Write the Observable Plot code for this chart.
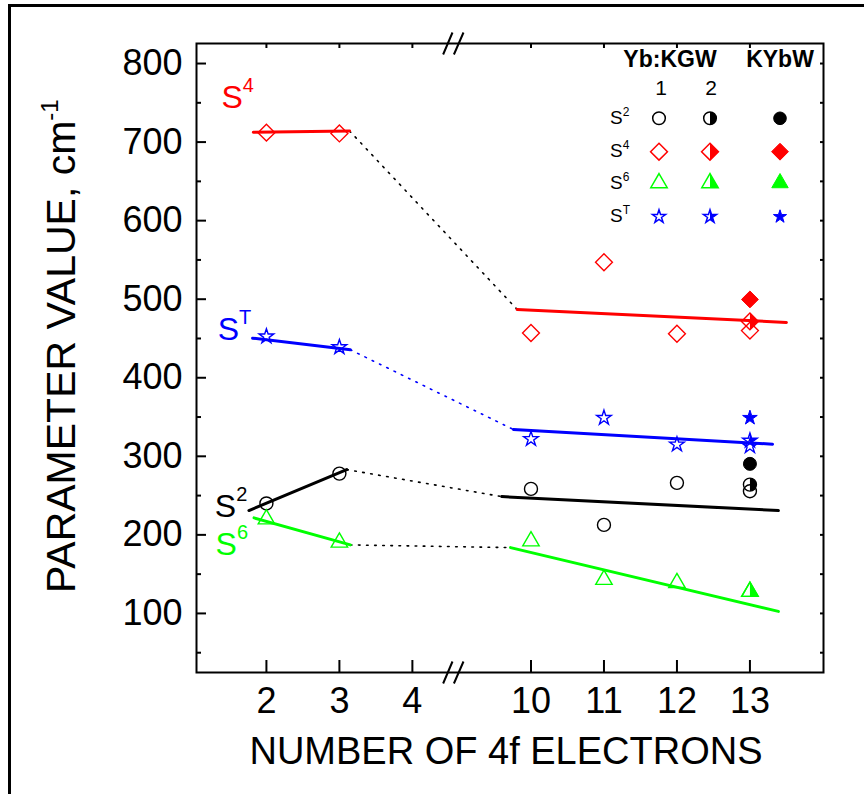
<!DOCTYPE html>
<html><head><meta charset="utf-8">
<script src="https://cdn.jsdelivr.net/npm/d3@7"></script>
<script src="https://cdn.jsdelivr.net/npm/@observablehq/plot@0.6"></script>
<style>
body{margin:0;background:#fff;}
#wrap{position:relative;width:864px;height:794px;overflow:hidden;font-family:"Liberation Sans",Arial,sans-serif;}
#outer{position:absolute;left:8px;top:4px;width:900px;height:900px;border-top:3px solid #000;border-left:3px solid #000;pointer-events:none;}
</style></head><body><div id="wrap"><div id="outer"></div></div>
<script>
// ---------------- data ----------------
const electrons = [2, 3, 10, 11, 12, 13];           // Yb:KGW sample 1 (open markers)
const s2KGW1 = [240, 278, 258.5, 212.7, 266.2, 255.5];
const s4KGW1 = [712, 711, 457, 547, 456, 460];
const s6KGW1 = [220, 190.5, 192, 143, 139, 127.7];
const sTKGW1 = [452.6, 439, 322, 349, 315, 313];

const kgw2Electrons = [13];                          // Yb:KGW sample 2 (half-filled)
const s2KGW2 = [264];
const s4KGW2 = [471.7];
const s6KGW2 = [127.7];
const sTKGW2 = [320];

const kybwElectrons = [13];                          // KYbW (filled)
const s2KYbW = [290.4];
const s4KYbW = [499.7];
const sTKYbW = [349];

// linear fits: [electrons, value] — left segment start/end, right segment start/end
const s2Fit = [[1.76, 231], [3.10, 283.1], [9.60, 248.7], [13.39, 230.9]];
const s4Fit = [[1.82, 712.5], [3.14, 714.1], [9.81, 487], [13.50, 470.4]];
const s6Fit = [[1.83, 221.6], [3.15, 187.2], [9.72, 183.8], [13.39, 102.6]];
const sTFit = [[1.81, 450.4], [3.15, 435.6], [9.76, 334.1], [13.31, 315.4]];

const xTicks = [2, 3, 4, 10, 11, 12, 13];
const yTicks = [100, 200, 300, 400, 500, 600, 700, 800];
const yMinor = [50, 150, 250, 350, 450, 550, 650, 750];
const seriesNames = ["2", "4", "6", "T"];
// series label anchors [electrons, value]
const labelAnchors = [[1.30, 222.5], [1.39, 742.4], [1.31, 173.7], [1.34, 447.4]];

// ---------------- broken axis ----------------
const BREAK_SHIFT = 4.375;                 // removes the 4.56 … 8.94 gap
const BREAK_AT = 4.557;
const bx = n => (n < 6 ? n : n - BREAK_SHIFT);
const unbx = u => (u < BREAK_AT ? u : u + BREAK_SHIFT);

// ---------------- symbols ----------------
const sqrt3 = Math.sqrt(3);
const halfCircle = {draw(c, size) {const R = Math.sqrt(size / Math.PI); c.moveTo(0, -R); c.arc(0, 0, R, -Math.PI / 2, Math.PI / 2); c.closePath();}};
const halfDiamond = {draw(c, size) {const h = Math.sqrt(size) * 0.62625; c.moveTo(0, -h); c.lineTo(h, 0); c.lineTo(0, h); c.closePath();}};
const halfTriangle = {draw(c, size) {const y = -Math.sqrt(size / (sqrt3 * 3)); c.moveTo(0, 2 * y); c.lineTo(-sqrt3 * y, -y); c.lineTo(0, -y); c.closePath();}};
const halfStar = {draw(c, size) {
  const ka = 0.89081309152928522810, kr = Math.sin(Math.PI / 10) / Math.sin(7 * Math.PI / 10);
  const R = Math.sqrt(size * ka), ri = kr * R;
  c.moveTo(0, -R);
  for (let k = 1; k <= 5; k++) {const t = k * Math.PI / 5, rr = k % 2 ? ri : R; c.lineTo(rr * Math.sin(t), -rr * Math.cos(t));}
  c.closePath();
}};
const slashes = {draw(c, size) {
  const r = Math.sqrt(size / Math.PI);
  c.moveTo(-0.9 * r, r); c.lineTo(-0.05 * r, -r);
  c.moveTo(0.08 * r, r); c.lineTo(0.95 * r, -r);
}};

const colors = {"2": "#000000", "4": "#ff0000", "6": "#00ff00", "T": "#0000ff"};
const symFull = {"2": "circle", "4": "diamond2", "6": "triangle", "T": "star"};
const symHalf = {"2": halfCircle, "4": halfDiamond, "6": halfTriangle, "T": halfStar};
const symR = {"2": 6.5, "4": 7.6, "6": 6.1, "T": 4.6};

const set1 = {"2": s2KGW1, "4": s4KGW1, "6": s6KGW1, "T": sTKGW1};
const set2 = {"2": s2KGW2, "4": s4KGW2, "6": s6KGW2, "T": sTKGW2};
const set3 = {"2": s2KYbW, "4": s4KYbW, "T": sTKYbW};
const fits = {"2": s2Fit, "4": s4Fit, "6": s6Fit, "T": sTFit};

const marks = [];
for (const s of seriesNames) {
  const fit = fits[s].map(([n, v], i) => ({n, v, seg: i < 2 ? "L" : "R"}));
  marks.push(Plot.link([fits[s]], {
    x1: d => bx(d[1][0]), y1: d => d[1][1], x2: d => bx(d[2][0]), y2: d => d[2][1],
    stroke: s === "T" ? "#0000ff" : "#000", strokeWidth: 1.6, strokeDasharray: "1.6,6.5", strokeLinecap: "round"
  }));
  marks.push(Plot.line(fit, {x: d => bx(d.n), y: "v", z: "seg", stroke: colors[s], strokeWidth: 3}));
}
for (const s of seriesNames) {
  const p1 = electrons.map((n, i) => ({n, v: set1[s][i]}));
  marks.push(Plot.dot(p1, {x: d => bx(d.n), y: "v", symbol: symFull[s], r: symR[s], stroke: colors[s], fill: "none", strokeWidth: 1.4}));
  const p2 = kgw2Electrons.map((n, i) => ({n, v: set2[s][i]}));
  marks.push(Plot.dot(p2, {x: d => bx(d.n), y: "v", symbol: symHalf[s], r: symR[s], fill: colors[s], stroke: "none"}));
  marks.push(Plot.dot(p2, {x: d => bx(d.n), y: "v", symbol: symFull[s], r: symR[s], stroke: colors[s], fill: "none", strokeWidth: 1.4}));
  if (set3[s]) {
    const p3 = kybwElectrons.map((n, i) => ({n, v: set3[s][i]}));
    marks.push(Plot.dot(p3, {x: d => bx(d.n), y: "v", symbol: symFull[s], r: symR[s], fill: colors[s], stroke: colors[s], strokeWidth: 1}));
  }
}

const uTicks = xTicks.map(bx);
const plot = Plot.plot({
  width: 864, height: 794,
  marginLeft: 196, marginRight: 41, marginTop: 43, marginBottom: 122,
  style: {fontFamily: '"Liberation Sans", Arial, sans-serif', background: "transparent", color: "#000"},
  x: {domain: [1.042, 9.633], label: null},
  y: {domain: [24.8, 825.5], label: null},
  marks: [
    Plot.axisY({ticks: yTicks, tickSize: 0, tickPadding: 14, fontSize: 36, label: null}),
    Plot.axisY({ticks: yTicks, tickSize: -10, tickFormat: () => "", strokeWidth: 2, label: null}),
    Plot.axisY({ticks: yMinor, tickSize: -5, tickFormat: () => "", strokeWidth: 2, label: null}),
    Plot.axisY({anchor: "right", ticks: yTicks.concat(yMinor), tickSize: -4, tickFormat: () => "", strokeWidth: 2, label: null}),
    Plot.axisX({ticks: uTicks, tickSize: 0, tickPadding: 15, fontSize: 36, tickFormat: u => String(Math.round(unbx(u))), label: null}),
    Plot.axisX({ticks: uTicks, tickSize: -12, tickFormat: () => "", strokeWidth: 2, label: null}),
    Plot.axisX({anchor: "top", ticks: uTicks, tickSize: -4, tickFormat: () => "", strokeWidth: 2, label: null}),
    ...marks,
    Plot.frame({stroke: "#000", strokeWidth: 2}),
    Plot.dot([BREAK_AT], {x: d => d, frameAnchor: "bottom", symbol: slashes, r: 11, stroke: "#000", strokeWidth: 2, fill: "none"}),
    Plot.dot([BREAK_AT], {x: d => d, frameAnchor: "top", symbol: slashes, r: 11, stroke: "#000", strokeWidth: 2, fill: "none"})
  ]
});
document.getElementById("wrap").prepend(plot);

// ---------------- annotations ----------------
const svg = d3.select(plot);
const xs = plot.scale("x"), ys = plot.scale("y");
const font = '"Liberation Sans", Arial, sans-serif';

function supText(g, x, y, base, sup, size, color, supSize, supDy) {
  const t = g.append("text").attr("x", x).attr("y", y).attr("font-family", font)
    .attr("text-anchor", "start").attr("font-size", size).attr("fill", color);
  t.append("tspan").text(base);
  t.append("tspan").attr("dy", supDy).attr("font-size", supSize).text(sup);
  return t;
}
const ann = svg.append("g");
seriesNames.forEach((s, i) => {
  const [n, v] = labelAnchors[i];
  supText(ann, xs.apply(bx(n)), ys.apply(v), "S", s, 32, colors[s], 20, -16);
});

// axis titles
const yl = ann.append("text").attr("transform", "translate(75,593) rotate(-90)").attr("text-anchor", "start")
  .attr("font-family", font).attr("font-size", 41).attr("fill", "#000");
yl.append("tspan").text("PARAMETER VALUE, cm");
yl.append("tspan").attr("dy", -17).attr("font-size", 24).text("-1");
ann.append("text").attr("x", 506).attr("y", 764).attr("text-anchor", "middle")
  .attr("font-family", font).attr("font-size", 38).attr("fill", "#000").text("NUMBER OF 4f ELECTRONS");

// legend
const leg = svg.append("g");
leg.append("text").attr("x", 670).attr("y", 66.7).attr("text-anchor", "middle").attr("font-family", font)
  .attr("font-weight", "bold").attr("font-size", 23).text("Yb:KGW");
leg.append("text").attr("x", 780).attr("y", 66.7).attr("text-anchor", "middle").attr("font-family", font)
  .attr("font-weight", "bold").attr("font-size", 23).text("KYbW");
leg.append("text").attr("x", 661).attr("y", 95).attr("text-anchor", "middle").attr("font-family", font).attr("font-size", 21).text("1");
leg.append("text").attr("x", 711).attr("y", 95).attr("text-anchor", "middle").attr("font-family", font).attr("font-size", 21).text("2");
const rowY = [118.3, 151.7, 183, 216.7];
seriesNames.forEach((s, i) => {
  const cy = rowY[i];
  supText(leg, 610, cy + 5.5, "S", s, 19, "#000", 12, -8);
  const r = symR[s] * (s === "2" ? 0.97 : s === "T" ? 0.9 : 1.0);
  const size = Math.PI * r * r;
  const full = d3.symbol().type(d3["symbol" + {"2": "Circle", "4": "Diamond2", "6": "Triangle", "T": "Star"}[s]]).size(size)();
  const half = d3.symbol().type(symHalf[s]).size(size)();
  leg.append("path").attr("d", full).attr("transform", `translate(659,${cy})`).attr("fill", "none").attr("stroke", colors[s]).attr("stroke-width", 1.5);
  leg.append("path").attr("d", half).attr("transform", `translate(710,${cy})`).attr("fill", colors[s]);
  leg.append("path").attr("d", full).attr("transform", `translate(710,${cy})`).attr("fill", "none").attr("stroke", colors[s]).attr("stroke-width", 1.5);
  leg.append("path").attr("d", full).attr("transform", `translate(780,${cy})`).attr("fill", colors[s]).attr("stroke", colors[s]);
});
</script></body></html>
